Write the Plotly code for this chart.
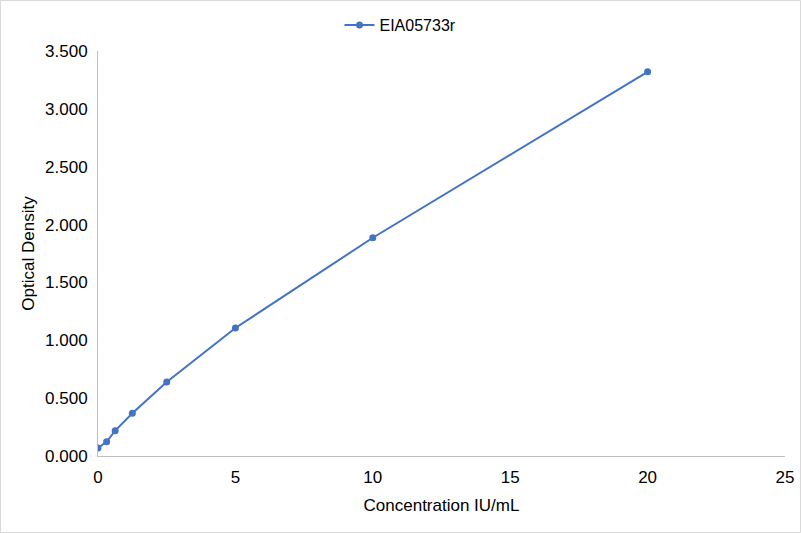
import plotly.graph_objects as go

concentration = [0, 0.3125, 0.625, 1.25, 2.5, 5, 10, 20]
optical_density = [0.069, 0.123, 0.219, 0.369, 0.640, 1.106, 1.886, 3.320]
series_name = "EIA05733r"

fig = go.Figure()
fig.add_trace(go.Scatter(
    x=concentration, y=optical_density, name=series_name,
    mode="lines+markers",
    line=dict(color="#4472C4", width=2),
    marker=dict(color="#4472C4", size=7),
))

fig.update_layout(
    width=801, height=533,
    paper_bgcolor="white", plot_bgcolor="white",
    font=dict(family="Liberation Sans, Arial", size=17, color="#000000"),
    margin=dict(l=98, r=16, t=51, b=77, autoexpand=False),
    showlegend=True,
    legend=dict(orientation="h", x=0.5, xanchor="center", xref="container",
                y=1 - 8 / 533, yanchor="top", yref="container", itemwidth=30,
                font=dict(size=16, color="#000000")),
    xaxis=dict(range=[0, 25], dtick=5, showgrid=False, zeroline=False,
               showline=True, linecolor="#BFBFBF", linewidth=1,
               ticks="", ticklabelstandoff=6,
               title=dict(text="Concentration IU/mL", standoff=12, font=dict(size=17))),
    yaxis=dict(range=[0, 3.5], dtick=0.5, tickformat=".3f", showgrid=False, zeroline=False,
               showline=True, linecolor="#BFBFBF", linewidth=1,
               ticks="", ticklabelstandoff=6,
               title=dict(text="Optical Density", standoff=6, font=dict(size=17))),
    shapes=[dict(type="rect", xref="paper", yref="paper",
                 x0=-97.5 / 687, x1=1 + 15.5 / 687, y0=-76.5 / 405, y1=1 + 50.5 / 405,
                 line=dict(color="#D9D9D9", width=1))],
)

fig.write_html("out.html", config={"displayModeBar": False},
               post_script="document.body.style.margin='0';")
